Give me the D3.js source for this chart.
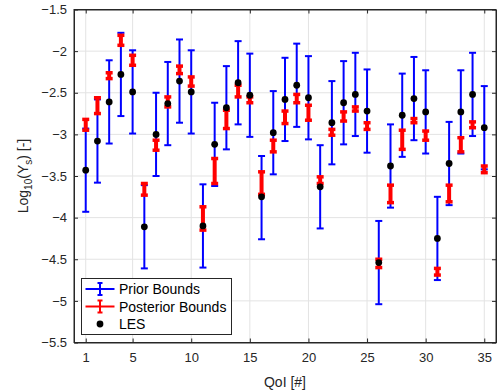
<!DOCTYPE html>
<html>
<head>
<meta charset="utf-8">
<script src="https://cdn.jsdelivr.net/npm/d3@7"></script>
<style>
  body { margin: 0; background: #fff; }
  text { font-family: "Liberation Sans", Arial, sans-serif; }
</style>
</head>
<body>
<svg id="chart" width="498" height="392"></svg>
<script>
// QoI index
var qoi = d3.range(1, 36);
// LES values (log10)
var les = [-3.43, -3.08, -2.61, -2.28, -2.49, -4.11, -3.00, -2.63, -2.36, -2.49,
           -4.10, -3.12, -2.68, -2.38, -2.53, -3.75, -2.98, -2.58, -2.41, -2.56,
           -3.63, -2.86, -2.62, -2.52, -2.72, -4.54, -3.38, -2.77, -2.57, -2.73,
           -4.25, -3.35, -2.73, -2.52, -2.92];
// prior bounds
var priorLo = [-3.93, -3.58, -3.11, -2.78, -2.99, -4.61, -3.50, -3.13, -2.86, -2.99,
               -4.60, -3.62, -3.18, -2.88, -3.03, -4.26, -3.48, -3.08, -2.91, -3.06,
               -4.13, -3.36, -3.12, -3.02, -3.22, -5.04, -3.88, -3.27, -3.07, -3.23,
               -4.75, -3.85, -3.23, -3.02, -3.42];
var priorHi = [-2.93, -2.58, -2.11, -1.78, -1.99, -3.61, -2.50, -2.13, -1.86, -1.99,
               -3.60, -2.62, -2.18, -1.88, -2.03, -3.26, -2.48, -2.08, -1.91, -2.06,
               -3.13, -2.36, -2.12, -2.02, -2.22, -4.04, -2.88, -2.27, -2.07, -2.23,
               -3.75, -2.85, -2.23, -2.02, -2.42];
// posterior bounds
var postLo = [-2.95, -2.75, -2.33, -1.93, -2.17, -3.73, -3.19, -2.67, -2.27, -2.42,
              -4.15, -3.59, -2.93, -2.55, -2.62, -3.72, -3.21, -2.87, -2.62, -2.83,
              -3.59, -3.01, -2.84, -2.72, -2.94, -4.60, -3.82, -3.18, -2.86, -3.07,
              -4.69, -3.81, -3.21, -2.92, -3.46];
var postHi = [-2.82, -2.56, -2.26, -1.81, -2.05, -3.59, -3.07, -2.55, -2.18, -2.31,
              -3.87, -3.29, -2.71, -2.41, -2.55, -3.45, -3.07, -2.72, -2.52, -2.65,
              -3.51, -2.94, -2.73, -2.67, -2.86, -4.50, -3.61, -2.95, -2.81, -2.96,
              -4.61, -3.61, -3.04, -2.85, -3.38];
var xTicks = [1, 5, 10, 15, 20, 25, 30, 35];
var yTicks = [-5.5, -5, -4.5, -4, -3.5, -3, -2.5, -2, -1.5];

var svg = d3.select("#chart"),
    margin = { top: 9.5, right: 2, bottom: 49.5, left: 74 },
    width = 498 - margin.left - margin.right,
    height = 392 - margin.top - margin.bottom;

var axisColor = "#262626";

var x = d3.scaleLinear().domain([0, 36]).range([0, width]),
    y = d3.scaleLinear().domain([-5.5, -1.5]).range([height, 0]);

var g = svg.append("g").attr("transform", "translate(" + margin.left + "," + margin.top + ")");

// grid
g.append("g").selectAll("line").data(xTicks).enter().append("line")
    .attr("x1", d => x(d)).attr("x2", d => x(d))
    .attr("y1", 0).attr("y2", height)
    .attr("stroke", "#e3e3e3").attr("stroke-width", 1);
g.append("g").selectAll("line").data(yTicks).enter().append("line")
    .attr("x1", 0).attr("x2", width)
    .attr("y1", d => y(d)).attr("y2", d => y(d))
    .attr("stroke", "#e3e3e3").attr("stroke-width", 1);

// axes
function styleAxis(sel) {
    sel.select(".domain").attr("stroke", axisColor);
    sel.selectAll(".tick line").attr("stroke", axisColor);
    sel.selectAll(".tick text").attr("fill", axisColor).style("font-size", "13px");
}
g.append("g").attr("transform", "translate(0," + height + ")")
    .call(d3.axisBottom(x).tickValues(xTicks).tickSizeInner(-4).tickSizeOuter(0).tickPadding(10))
    .call(styleAxis);
g.append("g")
    .call(d3.axisTop(x).tickValues(xTicks).tickSizeInner(-4).tickSizeOuter(0).tickFormat(""))
    .call(styleAxis);
g.append("g")
    .call(d3.axisLeft(y).tickValues(yTicks).tickSizeInner(-4).tickSizeOuter(0).tickPadding(7).tickFormat(d3.format("")))
    .call(styleAxis);
g.append("g").attr("transform", "translate(" + width + ",0)")
    .call(d3.axisRight(y).tickValues(yTicks).tickSizeInner(-4).tickSizeOuter(0).tickFormat(""))
    .call(styleAxis);

// error bars
function drawBars(lo, hi, color, lw, capW, capLw) {
    var eb = g.append("g").selectAll("g").data(qoi).enter().append("g");
    eb.append("line")
        .attr("x1", (d) => x(d)).attr("x2", (d) => x(d))
        .attr("y1", (d, i) => y(lo[i])).attr("y2", (d, i) => y(hi[i]))
        .attr("stroke", color).attr("stroke-width", lw);
    [lo, hi].forEach(function (arr) {
        eb.append("line")
            .attr("x1", (d) => x(d) - capW / 2).attr("x2", (d) => x(d) + capW / 2)
            .attr("y1", (d, i) => y(arr[i])).attr("y2", (d, i) => y(arr[i]))
            .attr("stroke", color).attr("stroke-width", capLw);
    });
}
drawBars(priorLo, priorHi, "#0000ff", 2, 7, 2);
drawBars(postLo, postHi, "#ff0000", 4, 7, 3.5);

// LES points
g.append("g").selectAll("circle").data(qoi).enter().append("circle")
    .attr("cx", d => x(d)).attr("cy", (d, i) => y(les[i]))
    .attr("r", 3.4).attr("fill", "#000");

// box
g.append("rect").attr("width", width).attr("height", height)
    .attr("fill", "none").attr("stroke", axisColor).attr("stroke-width", 1);

// labels
svg.append("text").attr("x", margin.left + width / 2).attr("y", 387)
    .attr("text-anchor", "middle").attr("fill", axisColor).style("font-size", "14px")
    .text("QoI [#]");
var yl = svg.append("text")
    .attr("transform", "translate(28," + (margin.top + height / 2) + ") rotate(-90)")
    .attr("text-anchor", "middle").attr("fill", axisColor).style("font-size", "14px");
yl.append("tspan").text("Log");
yl.append("tspan").attr("dy", 4).style("font-size", "10px").text("10");
yl.append("tspan").attr("dy", -4).text("(Y");
yl.append("tspan").attr("dy", 4).style("font-size", "10px").text("s");
yl.append("tspan").attr("dy", -4).text(") [-]");

// legend
var leg = svg.append("g").attr("transform", "translate(81.5,278.5)");
leg.append("rect").attr("width", 150).attr("height", 56)
    .attr("fill", "#fff").attr("stroke", axisColor).attr("stroke-width", 1);
var items = [
    { label: "Prior Bounds", color: "#0000ff", type: "bar", lw: 2 },
    { label: "Posterior Bounds", color: "#ff0000", type: "bar", lw: 2 },
    { label: "LES", color: "#000", type: "dot" }
];
items.forEach(function (it, i) {
    var cy = 10.5 + i * 17.5;
    var row = leg.append("g").attr("transform", "translate(0," + cy + ")");
    if (it.type === "bar") {
        row.append("line").attr("x1", 4).attr("x2", 33).attr("y1", 0).attr("y2", 0)
            .attr("stroke", it.color).attr("stroke-width", it.lw);
        row.append("line").attr("x1", 18.5).attr("x2", 18.5).attr("y1", -6).attr("y2", 6)
            .attr("stroke", it.color).attr("stroke-width", it.lw);
        [-6, 6].forEach(function (o) {
            row.append("line").attr("x1", 16).attr("x2", 21).attr("y1", o).attr("y2", o)
                .attr("stroke", it.color).attr("stroke-width", it.lw);
        });
    } else {
        row.append("circle").attr("cx", 18.5).attr("cy", 0).attr("r", 3.4).attr("fill", it.color);
    }
    row.append("text").attr("x", 37.5).attr("y", 5).attr("fill", "#000")
        .style("font-size", "14px").text(it.label);
});
</script>
</body>
</html>
